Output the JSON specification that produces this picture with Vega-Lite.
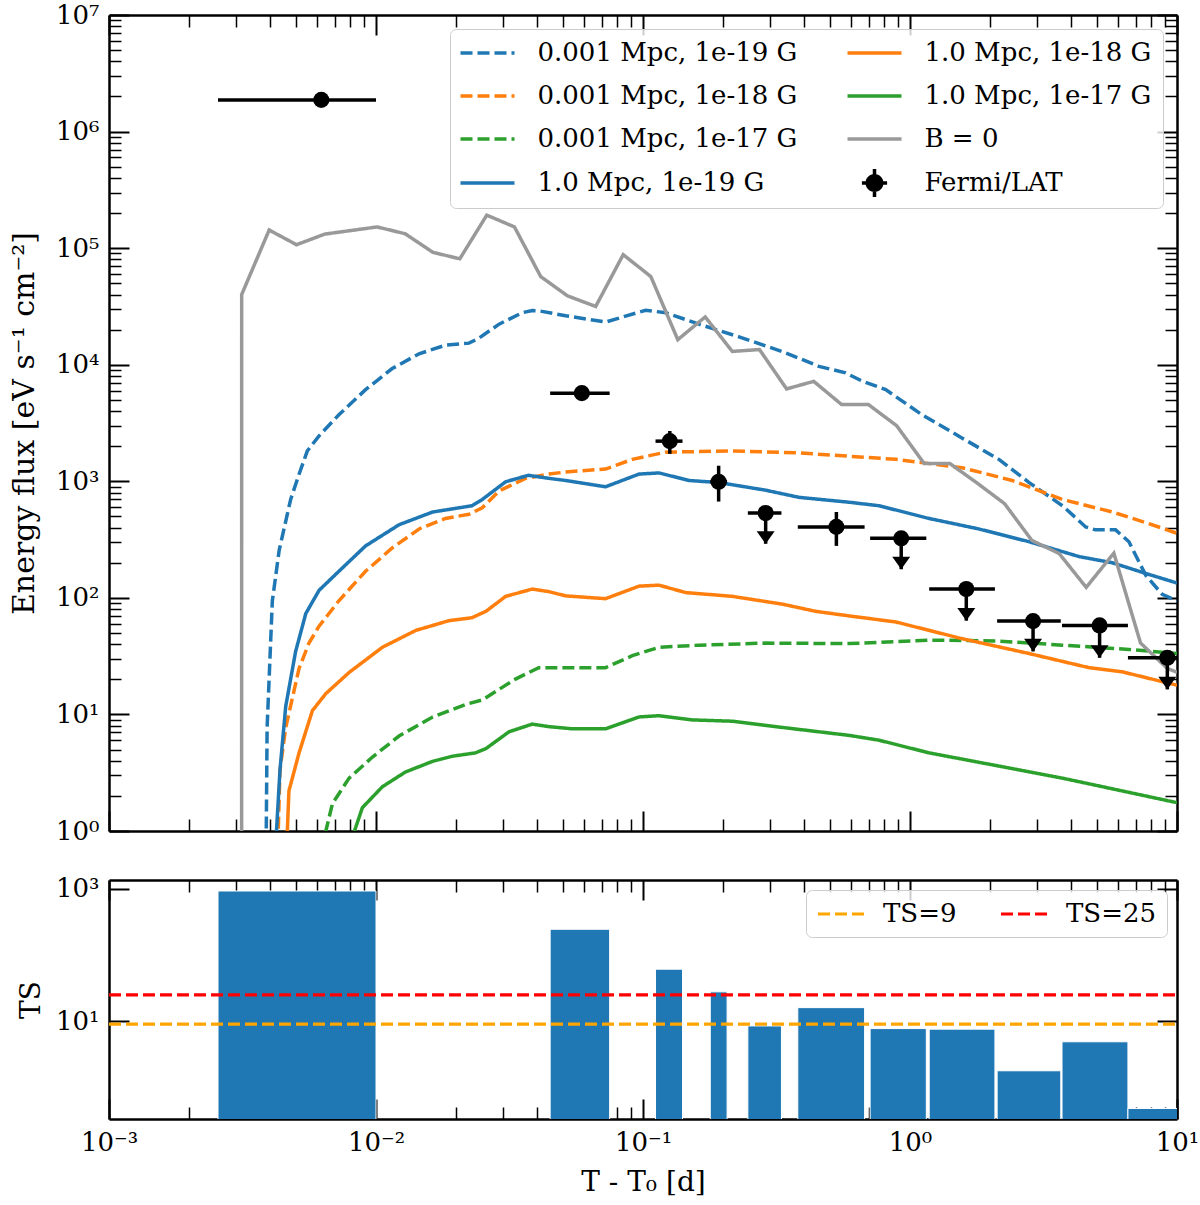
{
  "$schema": "https://vega.github.io/schema/vega-lite/v6.json",
  "padding": {"left": 9, "top": 2, "right": 5, "bottom": 5},
  "spacing": 31,
  "resolve": {"scale": {"color": "independent"}, "legend": {"color": "independent"}},
  "config": {
    "font": "DejaVu Serif",
    "view": {"stroke": null},
    "axis": {
      "labelFont": "DejaVu Serif", "labelFontSize": 26, "labelColor": "black",
      "titleFont": "DejaVu Serif", "titleFontSize": 28, "titleFontWeight": "normal", "titleColor": "black",
      "domainColor": "black", "domainWidth": 2.5, "tickColor": "black",
      "grid": false, "labelFlush": false, "labelOverlap": false, "labelBound": false
    },
    "legend": {"labelFont": "DejaVu Serif", "labelFontSize": 26, "labelColor": "black"}
  },
  "datasets": {
    "models": [
      {"series": "0.001 Mpc, 1e-19 G", "t": 0.00385, "f": 0.1},
      {"series": "0.001 Mpc, 1e-19 G", "t": 0.00391, "f": 7.7},
      {"series": "0.001 Mpc, 1e-19 G", "t": 0.00409, "f": 94},
      {"series": "0.001 Mpc, 1e-19 G", "t": 0.00434, "f": 257},
      {"series": "0.001 Mpc, 1e-19 G", "t": 0.00479, "f": 698},
      {"series": "0.001 Mpc, 1e-19 G", "t": 0.00515, "f": 1150},
      {"series": "0.001 Mpc, 1e-19 G", "t": 0.00553, "f": 1820},
      {"series": "0.001 Mpc, 1e-19 G", "t": 0.00612, "f": 2455},
      {"series": "0.001 Mpc, 1e-19 G", "t": 0.00726, "f": 3715},
      {"series": "0.001 Mpc, 1e-19 G", "t": 0.00914, "f": 6110},
      {"series": "0.001 Mpc, 1e-19 G", "t": 0.0115, "f": 9270},
      {"series": "0.001 Mpc, 1e-19 G", "t": 0.0145, "f": 12420},
      {"series": "0.001 Mpc, 1e-19 G", "t": 0.0182, "f": 14690},
      {"series": "0.001 Mpc, 1e-19 G", "t": 0.0223, "f": 15310},
      {"series": "0.001 Mpc, 1e-19 G", "t": 0.0243, "f": 16900},
      {"series": "0.001 Mpc, 1e-19 G", "t": 0.0289, "f": 22280},
      {"series": "0.001 Mpc, 1e-19 G", "t": 0.0353, "f": 27930},
      {"series": "0.001 Mpc, 1e-19 G", "t": 0.0385, "f": 29110},
      {"series": "0.001 Mpc, 1e-19 G", "t": 0.0407, "f": 29000},
      {"series": "0.001 Mpc, 1e-19 G", "t": 0.0513, "f": 26300},
      {"series": "0.001 Mpc, 1e-19 G", "t": 0.0724, "f": 23230},
      {"series": "0.001 Mpc, 1e-19 G", "t": 0.1023, "f": 29310},
      {"series": "0.001 Mpc, 1e-19 G", "t": 0.1216, "f": 27930},
      {"series": "0.001 Mpc, 1e-19 G", "t": 0.162, "f": 22280},
      {"series": "0.001 Mpc, 1e-19 G", "t": 0.229, "f": 17340},
      {"series": "0.001 Mpc, 1e-19 G", "t": 0.333, "f": 12940},
      {"series": "0.001 Mpc, 1e-19 G", "t": 0.456, "f": 9680},
      {"series": "0.001 Mpc, 1e-19 G", "t": 0.574, "f": 8510},
      {"series": "0.001 Mpc, 1e-19 G", "t": 0.662, "f": 7230},
      {"series": "0.001 Mpc, 1e-19 G", "t": 0.811, "f": 6110},
      {"series": "0.001 Mpc, 1e-19 G", "t": 1.112, "f": 3707},
      {"series": "0.001 Mpc, 1e-19 G", "t": 1.57, "f": 2344},
      {"series": "0.001 Mpc, 1e-19 G", "t": 2.153, "f": 1542},
      {"series": "0.001 Mpc, 1e-19 G", "t": 2.793, "f": 975},
      {"series": "0.001 Mpc, 1e-19 G", "t": 3.724, "f": 617},
      {"series": "0.001 Mpc, 1e-19 G", "t": 4.55, "f": 406},
      {"series": "0.001 Mpc, 1e-19 G", "t": 4.955, "f": 383},
      {"series": "0.001 Mpc, 1e-19 G", "t": 5.888, "f": 383},
      {"series": "0.001 Mpc, 1e-19 G", "t": 6.607, "f": 303},
      {"series": "0.001 Mpc, 1e-19 G", "t": 7.638, "f": 156},
      {"series": "0.001 Mpc, 1e-19 G", "t": 8.81, "f": 107},
      {"series": "0.001 Mpc, 1e-19 G", "t": 10, "f": 94},
      {"series": "0.001 Mpc, 1e-18 G", "t": 0.00418, "f": 0.1},
      {"series": "0.001 Mpc, 1e-18 G", "t": 0.00437, "f": 3.35},
      {"series": "0.001 Mpc, 1e-18 G", "t": 0.00459, "f": 7.7},
      {"series": "0.001 Mpc, 1e-18 G", "t": 0.00515, "f": 24.8},
      {"series": "0.001 Mpc, 1e-18 G", "t": 0.00561, "f": 40.9},
      {"series": "0.001 Mpc, 1e-18 G", "t": 0.00612, "f": 57.1},
      {"series": "0.001 Mpc, 1e-18 G", "t": 0.00726, "f": 94.4},
      {"series": "0.001 Mpc, 1e-18 G", "t": 0.00914, "f": 169},
      {"series": "0.001 Mpc, 1e-18 G", "t": 0.0115, "f": 268},
      {"series": "0.001 Mpc, 1e-18 G", "t": 0.0145, "f": 390},
      {"series": "0.001 Mpc, 1e-18 G", "t": 0.0182, "f": 480},
      {"series": "0.001 Mpc, 1e-18 G", "t": 0.0223, "f": 521},
      {"series": "0.001 Mpc, 1e-18 G", "t": 0.025, "f": 592},
      {"series": "0.001 Mpc, 1e-18 G", "t": 0.0289, "f": 826},
      {"series": "0.001 Mpc, 1e-18 G", "t": 0.0363, "f": 1059},
      {"series": "0.001 Mpc, 1e-18 G", "t": 0.0445, "f": 1153},
      {"series": "0.001 Mpc, 1e-18 G", "t": 0.0513, "f": 1202},
      {"series": "0.001 Mpc, 1e-18 G", "t": 0.0724, "f": 1274},
      {"series": "0.001 Mpc, 1e-18 G", "t": 0.0912, "f": 1542},
      {"series": "0.001 Mpc, 1e-18 G", "t": 0.1216, "f": 1778},
      {"series": "0.001 Mpc, 1e-18 G", "t": 0.216, "f": 1820},
      {"series": "0.001 Mpc, 1e-18 G", "t": 0.384, "f": 1750},
      {"series": "0.001 Mpc, 1e-18 G", "t": 0.592, "f": 1640},
      {"series": "0.001 Mpc, 1e-18 G", "t": 0.885, "f": 1542},
      {"series": "0.001 Mpc, 1e-18 G", "t": 1.57, "f": 1306},
      {"series": "0.001 Mpc, 1e-18 G", "t": 2.415, "f": 1016},
      {"series": "0.001 Mpc, 1e-18 G", "t": 3.724, "f": 698},
      {"series": "0.001 Mpc, 1e-18 G", "t": 5.728, "f": 545},
      {"series": "0.001 Mpc, 1e-18 G", "t": 7.638, "f": 442},
      {"series": "0.001 Mpc, 1e-18 G", "t": 10, "f": 358},
      {"series": "0.001 Mpc, 1e-17 G", "t": 0.00603, "f": 0.5},
      {"series": "0.001 Mpc, 1e-17 G", "t": 0.00687, "f": 1.72},
      {"series": "0.001 Mpc, 1e-17 G", "t": 0.00793, "f": 2.84},
      {"series": "0.001 Mpc, 1e-17 G", "t": 0.0097, "f": 4.31},
      {"series": "0.001 Mpc, 1e-17 G", "t": 0.0122, "f": 6.53},
      {"series": "0.001 Mpc, 1e-17 G", "t": 0.0163, "f": 9.51},
      {"series": "0.001 Mpc, 1e-17 G", "t": 0.0217, "f": 12.2},
      {"series": "0.001 Mpc, 1e-17 G", "t": 0.025, "f": 13.3},
      {"series": "0.001 Mpc, 1e-17 G", "t": 0.0289, "f": 16.4},
      {"series": "0.001 Mpc, 1e-17 G", "t": 0.0333, "f": 20.1},
      {"series": "0.001 Mpc, 1e-17 G", "t": 0.0407, "f": 25.2},
      {"series": "0.001 Mpc, 1e-17 G", "t": 0.0513, "f": 25.2},
      {"series": "0.001 Mpc, 1e-17 G", "t": 0.0724, "f": 25.2},
      {"series": "0.001 Mpc, 1e-17 G", "t": 0.0912, "f": 31.9},
      {"series": "0.001 Mpc, 1e-17 G", "t": 0.1148, "f": 37.7},
      {"series": "0.001 Mpc, 1e-17 G", "t": 0.162, "f": 39.3},
      {"series": "0.001 Mpc, 1e-17 G", "t": 0.2877, "f": 40.9},
      {"series": "0.001 Mpc, 1e-17 G", "t": 0.592, "f": 40.5},
      {"series": "0.001 Mpc, 1e-17 G", "t": 1.178, "f": 43.4},
      {"series": "0.001 Mpc, 1e-17 G", "t": 2.094, "f": 42.7},
      {"series": "0.001 Mpc, 1e-17 G", "t": 3.724, "f": 39.3},
      {"series": "0.001 Mpc, 1e-17 G", "t": 6.607, "f": 36.1},
      {"series": "0.001 Mpc, 1e-17 G", "t": 10, "f": 33.3},
      {"series": "1.0 Mpc, 1e-19 G", "t": 0.0040, "f": 0.1},
      {"series": "1.0 Mpc, 1e-19 G", "t": 0.00437, "f": 3.35},
      {"series": "1.0 Mpc, 1e-19 G", "t": 0.00459, "f": 11.7},
      {"series": "1.0 Mpc, 1e-19 G", "t": 0.0050, "f": 34.7},
      {"series": "1.0 Mpc, 1e-19 G", "t": 0.00546, "f": 73.5},
      {"series": "1.0 Mpc, 1e-19 G", "t": 0.00612, "f": 116},
      {"series": "1.0 Mpc, 1e-19 G", "t": 0.00726, "f": 169},
      {"series": "1.0 Mpc, 1e-19 G", "t": 0.00914, "f": 279},
      {"series": "1.0 Mpc, 1e-19 G", "t": 0.0122, "f": 424},
      {"series": "1.0 Mpc, 1e-19 G", "t": 0.0163, "f": 545},
      {"series": "1.0 Mpc, 1e-19 G", "t": 0.0229, "f": 617},
      {"series": "1.0 Mpc, 1e-19 G", "t": 0.025, "f": 698},
      {"series": "1.0 Mpc, 1e-19 G", "t": 0.0306, "f": 991},
      {"series": "1.0 Mpc, 1e-19 G", "t": 0.0372, "f": 1125},
      {"series": "1.0 Mpc, 1e-19 G", "t": 0.0445, "f": 1059},
      {"series": "1.0 Mpc, 1e-19 G", "t": 0.0513, "f": 1016},
      {"series": "1.0 Mpc, 1e-19 G", "t": 0.0724, "f": 897},
      {"series": "1.0 Mpc, 1e-19 G", "t": 0.0966, "f": 1153},
      {"series": "1.0 Mpc, 1e-19 G", "t": 0.1148, "f": 1180},
      {"series": "1.0 Mpc, 1e-19 G", "t": 0.1486, "f": 1016},
      {"series": "1.0 Mpc, 1e-19 G", "t": 0.1928, "f": 975},
      {"series": "1.0 Mpc, 1e-19 G", "t": 0.2877, "f": 839},
      {"series": "1.0 Mpc, 1e-19 G", "t": 0.384, "f": 728},
      {"series": "1.0 Mpc, 1e-19 G", "t": 0.592, "f": 661},
      {"series": "1.0 Mpc, 1e-19 G", "t": 0.766, "f": 617},
      {"series": "1.0 Mpc, 1e-19 G", "t": 1.178, "f": 480},
      {"series": "1.0 Mpc, 1e-19 G", "t": 1.811, "f": 390},
      {"series": "1.0 Mpc, 1e-19 G", "t": 2.793, "f": 303},
      {"series": "1.0 Mpc, 1e-19 G", "t": 4.295, "f": 226},
      {"series": "1.0 Mpc, 1e-19 G", "t": 5.728, "f": 200},
      {"series": "1.0 Mpc, 1e-19 G", "t": 7.638, "f": 162},
      {"series": "1.0 Mpc, 1e-19 G", "t": 10, "f": 134},
      {"series": "1.0 Mpc, 1e-18 G", "t": 0.00447, "f": 0.1},
      {"series": "1.0 Mpc, 1e-18 G", "t": 0.00472, "f": 2.21},
      {"series": "1.0 Mpc, 1e-18 G", "t": 0.00515, "f": 4.68},
      {"series": "1.0 Mpc, 1e-18 G", "t": 0.00578, "f": 10.8},
      {"series": "1.0 Mpc, 1e-18 G", "t": 0.00649, "f": 15.1},
      {"series": "1.0 Mpc, 1e-18 G", "t": 0.00793, "f": 22.9},
      {"series": "1.0 Mpc, 1e-18 G", "t": 0.01057, "f": 37.7},
      {"series": "1.0 Mpc, 1e-18 G", "t": 0.0141, "f": 52.6},
      {"series": "1.0 Mpc, 1e-18 G", "t": 0.01875, "f": 63.7},
      {"series": "1.0 Mpc, 1e-18 G", "t": 0.0229, "f": 67.6},
      {"series": "1.0 Mpc, 1e-18 G", "t": 0.0258, "f": 76.6},
      {"series": "1.0 Mpc, 1e-18 G", "t": 0.0306, "f": 103},
      {"series": "1.0 Mpc, 1e-18 G", "t": 0.0385, "f": 119},
      {"series": "1.0 Mpc, 1e-18 G", "t": 0.0445, "f": 113},
      {"series": "1.0 Mpc, 1e-18 G", "t": 0.0513, "f": 104},
      {"series": "1.0 Mpc, 1e-18 G", "t": 0.0724, "f": 98.4},
      {"series": "1.0 Mpc, 1e-18 G", "t": 0.0966, "f": 126},
      {"series": "1.0 Mpc, 1e-18 G", "t": 0.1148, "f": 128.5},
      {"series": "1.0 Mpc, 1e-18 G", "t": 0.1445, "f": 111},
      {"series": "1.0 Mpc, 1e-18 G", "t": 0.216, "f": 103},
      {"series": "1.0 Mpc, 1e-18 G", "t": 0.333, "f": 88.3},
      {"series": "1.0 Mpc, 1e-18 G", "t": 0.4436, "f": 76.6},
      {"series": "1.0 Mpc, 1e-18 G", "t": 0.592, "f": 70},
      {"series": "1.0 Mpc, 1e-18 G", "t": 0.885, "f": 62.1},
      {"series": "1.0 Mpc, 1e-18 G", "t": 1.57, "f": 44.6},
      {"series": "1.0 Mpc, 1e-18 G", "t": 2.793, "f": 33.3},
      {"series": "1.0 Mpc, 1e-18 G", "t": 4.677, "f": 25.2},
      {"series": "1.0 Mpc, 1e-18 G", "t": 6.237, "f": 23.2},
      {"series": "1.0 Mpc, 1e-18 G", "t": 10, "f": 17.8},
      {"series": "1.0 Mpc, 1e-17 G", "t": 0.0075, "f": 0.5},
      {"series": "1.0 Mpc, 1e-17 G", "t": 0.00889, "f": 1.585},
      {"series": "1.0 Mpc, 1e-17 G", "t": 0.01057, "f": 2.4},
      {"series": "1.0 Mpc, 1e-17 G", "t": 0.0129, "f": 3.21},
      {"series": "1.0 Mpc, 1e-17 G", "t": 0.0163, "f": 3.96},
      {"series": "1.0 Mpc, 1e-17 G", "t": 0.0193, "f": 4.38},
      {"series": "1.0 Mpc, 1e-17 G", "t": 0.0236, "f": 4.68},
      {"series": "1.0 Mpc, 1e-17 G", "t": 0.0258, "f": 5.09},
      {"series": "1.0 Mpc, 1e-17 G", "t": 0.0315, "f": 7.1},
      {"series": "1.0 Mpc, 1e-17 G", "t": 0.0385, "f": 8.26},
      {"series": "1.0 Mpc, 1e-17 G", "t": 0.0445, "f": 7.85},
      {"series": "1.0 Mpc, 1e-17 G", "t": 0.0543, "f": 7.53},
      {"series": "1.0 Mpc, 1e-17 G", "t": 0.0724, "f": 7.53},
      {"series": "1.0 Mpc, 1e-17 G", "t": 0.0966, "f": 9.51},
      {"series": "1.0 Mpc, 1e-17 G", "t": 0.1148, "f": 9.75},
      {"series": "1.0 Mpc, 1e-17 G", "t": 0.153, "f": 8.97},
      {"series": "1.0 Mpc, 1e-17 G", "t": 0.216, "f": 8.75},
      {"series": "1.0 Mpc, 1e-17 G", "t": 0.333, "f": 7.73},
      {"series": "1.0 Mpc, 1e-17 G", "t": 0.592, "f": 6.61},
      {"series": "1.0 Mpc, 1e-17 G", "t": 0.766, "f": 6.01},
      {"series": "1.0 Mpc, 1e-17 G", "t": 1.178, "f": 4.68},
      {"series": "1.0 Mpc, 1e-17 G", "t": 2.094, "f": 3.65},
      {"series": "1.0 Mpc, 1e-17 G", "t": 3.724, "f": 2.84},
      {"series": "1.0 Mpc, 1e-17 G", "t": 5.728, "f": 2.3},
      {"series": "1.0 Mpc, 1e-17 G", "t": 10, "f": 1.75},
      {"series": "B = 0", "t": 0.003138, "f": 0.01},
      {"series": "B = 0", "t": 0.00314, "f": 40000},
      {"series": "B = 0", "t": 0.00398, "f": 143000},
      {"series": "B = 0", "t": 0.00504, "f": 107000},
      {"series": "B = 0", "t": 0.00643, "f": 132000},
      {"series": "B = 0", "t": 0.0101, "f": 152000},
      {"series": "B = 0", "t": 0.01285, "f": 133000},
      {"series": "B = 0", "t": 0.01634, "f": 92000},
      {"series": "B = 0", "t": 0.0206, "f": 81000},
      {"series": "B = 0", "t": 0.026, "f": 192000},
      {"series": "B = 0", "t": 0.033, "f": 152000},
      {"series": "B = 0", "t": 0.0414, "f": 57000},
      {"series": "B = 0", "t": 0.0521, "f": 39000},
      {"series": "B = 0", "t": 0.0665, "f": 31600},
      {"series": "B = 0", "t": 0.0843, "f": 88000},
      {"series": "B = 0", "t": 0.107, "f": 57000},
      {"series": "B = 0", "t": 0.135, "f": 16400},
      {"series": "B = 0", "t": 0.171, "f": 25700},
      {"series": "B = 0", "t": 0.216, "f": 13000},
      {"series": "B = 0", "t": 0.273, "f": 13500},
      {"series": "B = 0", "t": 0.345, "f": 6200},
      {"series": "B = 0", "t": 0.436, "f": 7200},
      {"series": "B = 0", "t": 0.554, "f": 4560},
      {"series": "B = 0", "t": 0.698, "f": 4560},
      {"series": "B = 0", "t": 0.891, "f": 3000},
      {"series": "B = 0", "t": 1.13, "f": 1420},
      {"series": "B = 0", "t": 1.41, "f": 1420},
      {"series": "B = 0", "t": 1.79, "f": 960},
      {"series": "B = 0", "t": 2.26, "f": 643},
      {"series": "B = 0", "t": 2.86, "f": 311},
      {"series": "B = 0", "t": 3.62, "f": 240},
      {"series": "B = 0", "t": 4.57, "f": 123},
      {"series": "B = 0", "t": 5.8, "f": 242},
      {"series": "B = 0", "t": 7.3, "f": 41},
      {"series": "B = 0", "t": 9.2, "f": 24.8},
      {"series": "B = 0", "t": 10, "f": 23}
    ],
    "fermi": [
      {"t": 0.00624, "tmin": 0.00256, "tmax": 0.01, "flux": 1870000, "ts": 923, "ul": false},
      {"t": 0.059, "tmin": 0.0449, "tmax": 0.075, "flux": 5700, "ts": 244, "ul": false},
      {"t": 0.126, "tmin": 0.1114, "tmax": 0.1406, "flux": 2210, "lo": 1720, "hi": 2700, "ts": 60.9, "ul": false},
      {"t": 0.192, "tmin": 0.1786, "tmax": 0.2065, "flux": 990, "lo": 670, "hi": 1360, "ts": 27.7, "ul": false},
      {"t": 0.288, "tmin": 0.247, "tmax": 0.33, "flux": 535, "lo": 291, "hi": 535, "ts": 8.47, "ul": true},
      {"t": 0.53, "tmin": 0.38, "tmax": 0.676, "flux": 406, "lo": 279, "hi": 545, "ts": 16.0, "ul": false},
      {"t": 0.927, "tmin": 0.709, "tmax": 1.151, "flux": 324, "lo": 176, "hi": 324, "ts": 7.72, "ul": true},
      {"t": 1.625, "tmin": 1.18, "tmax": 2.08, "flux": 119, "lo": 63.7, "hi": 119, "ts": 7.57, "ul": true},
      {"t": 2.89, "tmin": 2.12, "tmax": 3.67, "flux": 63.2, "lo": 34.7, "hi": 63.2, "ts": 1.78, "ul": true},
      {"t": 5.13, "tmin": 3.71, "tmax": 6.55, "flux": 58, "lo": 30.6, "hi": 58, "ts": 4.88, "ul": true},
      {"t": 9.2, "tmin": 6.55, "tmax": 12.9, "flux": 30.6, "lo": 16.4, "hi": 30.6, "ts": 0.48, "ul": true}
    ],
    "thresholds": [
      {"label": "TS=9", "ts": 9},
      {"label": "TS=25", "ts": 25}
    ]
  },
  "vconcat": [
    {
      "width": 1068,
      "height": 816,
      "layer": [
        {
          "data": {"name": "models"},
          "mark": {"type": "line", "strokeWidth": 3.5, "clip": true},
          "encoding": {
            "x": {
              "field": "t", "type": "quantitative",
              "scale": {"type": "log", "domain": [0.001, 10], "nice": false},
              "axis": {
                "orient": "bottom", "title": null, "labels": false,
                "values": [0.001,0.002,0.003,0.004,0.005,0.006,0.007,0.008,0.009,0.01,0.02,0.03,0.04,0.05,0.06,0.07,0.08,0.09,0.1,0.2,0.3,0.4,0.5,0.6,0.7,0.8,0.9,1,2,3,4,5,6,7,8,9,10],
                "tickSize": {"condition": {"test": "abs(log(datum.value)/LN10 - round(log(datum.value)/LN10)) < 0.001", "value": -20}, "value": -12},
                "tickWidth": {"condition": {"test": "abs(log(datum.value)/LN10 - round(log(datum.value)/LN10)) < 0.001", "value": 2}, "value": 1.5}
              }
            },
            "y": {
              "field": "f", "type": "quantitative",
              "scale": {"type": "log", "domain": [1, 10000000], "nice": false},
              "axis": {
                "orient": "left", "title": "Energy flux [eV s⁻¹ cm⁻²]", "titlePadding": 16, "titleFontSize": 30,
                "values": [1,2,3,4,5,6,7,8,9,10,20,30,40,50,60,70,80,90,100,200,300,400,500,600,700,800,900,1000,2000,3000,4000,5000,6000,7000,8000,9000,10000,20000,30000,40000,50000,60000,70000,80000,90000,100000,200000,300000,400000,500000,600000,700000,800000,900000,1000000,2000000,3000000,4000000,5000000,6000000,7000000,8000000,9000000,10000000],
                "labelExpr": "abs(log(datum.value)/LN10 - round(log(datum.value)/LN10)) < 0.001 ? '10' + ['⁰','¹','²','³','⁴','⁵','⁶','⁷'][round(log(datum.value)/LN10)] : ''",
                "labelPadding": 30,
                "tickSize": {"condition": {"test": "abs(log(datum.value)/LN10 - round(log(datum.value)/LN10)) < 0.001", "value": -20}, "value": -12},
                "tickWidth": {"condition": {"test": "abs(log(datum.value)/LN10 - round(log(datum.value)/LN10)) < 0.001", "value": 2}, "value": 1.5}
              }
            },
            "color": {
              "field": "series", "type": "nominal",
              "scale": {
                "domain": ["0.001 Mpc, 1e-19 G", "0.001 Mpc, 1e-18 G", "0.001 Mpc, 1e-17 G", "1.0 Mpc, 1e-19 G", "1.0 Mpc, 1e-18 G", "1.0 Mpc, 1e-17 G", "B = 0", "Fermi/LAT"],
                "range": ["#1f77b4", "#ff7f0e", "#2ca02c", "#1f77b4", "#ff7f0e", "#2ca02c", "#999999", "black"]
              },
              "legend": {
                "title": null, "orient": "top-right", "offset": 14, "columns": 2,
                "symbolType": "M-2,0L2,0", "symbolSize": 729, "symbolStrokeWidth": 3.5, "symbolOffset": 13.5,
                "labelFontSize": 26, "labelLimit": 400, "labelOffset": 37,
                "columnPadding": 42, "rowPadding": 17, "padding": 11,
                "strokeColor": "#cccccc", "fillColor": "rgba(255,255,255,0.8)", "cornerRadius": 6,
                "encode": {
                  "symbols": {
                    "update": {
                      "shape": {"signal": "datum.value === 'Fermi/LAT' ? 'M-0.643,0A0.643,0.643,0,1,1,0.643,0A0.643,0.643,0,1,1,-0.643,0Z M-0.125,-1L0.125,-1L0.125,1L-0.125,1Z M-0.9,-0.125L0.9,-0.125L0.9,0.125L-0.9,0.125Z' : 'M-2,0L2,0'"},
                      "fill": {"signal": "datum.value === 'Fermi/LAT' ? 'black' : 'transparent'"},
                      "size": {"signal": "datum.value === 'Fermi/LAT' ? 784 : 729"},
                      "strokeWidth": {"signal": "datum.value === 'Fermi/LAT' ? 0 : 3.5"},
                      "strokeDash": {"signal": "substring(datum.value, 0, 5) === '0.001' ? [12, 5] : [1, 0]"}
                    }
                  }
                }
              }
            },
            "strokeDash": {
              "field": "series", "type": "nominal",
              "scale": {
                "domain": ["0.001 Mpc, 1e-19 G", "0.001 Mpc, 1e-18 G", "0.001 Mpc, 1e-17 G", "1.0 Mpc, 1e-19 G", "1.0 Mpc, 1e-18 G", "1.0 Mpc, 1e-17 G", "B = 0", "Fermi/LAT"],
                "range": [[12, 5], [12, 5], [12, 5], [1, 0], [1, 0], [1, 0], [1, 0], [1, 0]]
              },
              "legend": null
            }
          }
        },
        {
          "data": {"name": "fermi"},
          "mark": {"type": "rule", "color": "black", "strokeWidth": 3.5, "clip": true},
          "encoding": {
            "x": {
              "field": "tmin", "type": "quantitative",
              "axis": {
                "orient": "top", "title": null, "labels": false,
                "values": [0.001,0.002,0.003,0.004,0.005,0.006,0.007,0.008,0.009,0.01,0.02,0.03,0.04,0.05,0.06,0.07,0.08,0.09,0.1,0.2,0.3,0.4,0.5,0.6,0.7,0.8,0.9,1,2,3,4,5,6,7,8,9,10],
                "tickSize": {"condition": {"test": "abs(log(datum.value)/LN10 - round(log(datum.value)/LN10)) < 0.001", "value": -20}, "value": -12},
                "tickWidth": {"condition": {"test": "abs(log(datum.value)/LN10 - round(log(datum.value)/LN10)) < 0.001", "value": 2}, "value": 1.5}
              }
            },
            "x2": {"field": "tmax"},
            "y": {
              "field": "flux", "type": "quantitative",
              "axis": {
                "orient": "right", "title": null, "labels": false,
                "values": [1,2,3,4,5,6,7,8,9,10,20,30,40,50,60,70,80,90,100,200,300,400,500,600,700,800,900,1000,2000,3000,4000,5000,6000,7000,8000,9000,10000,20000,30000,40000,50000,60000,70000,80000,90000,100000,200000,300000,400000,500000,600000,700000,800000,900000,1000000,2000000,3000000,4000000,5000000,6000000,7000000,8000000,9000000,10000000],
                "tickSize": {"condition": {"test": "abs(log(datum.value)/LN10 - round(log(datum.value)/LN10)) < 0.001", "value": -20}, "value": -12},
                "tickWidth": {"condition": {"test": "abs(log(datum.value)/LN10 - round(log(datum.value)/LN10)) < 0.001", "value": 2}, "value": 1.5}
              }
            }
          }
        },
        {
          "data": {"name": "fermi"},
          "transform": [{"filter": "isValid(datum.lo)"}],
          "mark": {"type": "rule", "color": "black", "strokeWidth": 3.5, "clip": true},
          "encoding": {
            "x": {"field": "t", "type": "quantitative", "axis": null},
            "y": {"field": "lo", "type": "quantitative", "axis": null},
            "y2": {"field": "hi"}
          }
        },
        {
          "data": {"name": "fermi"},
          "transform": [{"filter": "datum.ul"}],
          "mark": {"type": "point", "shape": "M-1,-1.4L1,-1.4L0,0Z", "filled": true, "color": "black", "opacity": 1, "size": 324, "clip": true},
          "encoding": {
            "x": {"field": "t", "type": "quantitative", "axis": null},
            "y": {"field": "lo", "type": "quantitative", "axis": null}
          }
        },
        {
          "data": {"name": "fermi"},
          "mark": {"type": "circle", "color": "black", "opacity": 1, "size": 260, "clip": true},
          "encoding": {
            "x": {"field": "t", "type": "quantitative", "axis": null},
            "y": {"field": "flux", "type": "quantitative", "axis": null}
          }
        }
      ],
      "resolve": {"axis": {"x": "independent", "y": "independent"}}
    },
    {
      "width": 1068,
      "height": 239,
      "layer": [
        {
          "data": {"name": "fermi"},
          "mark": {"type": "rect", "fill": "#1f77b4", "stroke": "#ffffff", "strokeWidth": 1, "clip": true},
          "encoding": {
            "x": {
              "field": "tmin", "type": "quantitative",
              "scale": {"type": "log", "domain": [0.001, 10], "nice": false},
              "axis": {
                "orient": "bottom", "title": "T - T₀ [d]", "titlePadding": 5,
                "values": [0.001,0.002,0.003,0.004,0.005,0.006,0.007,0.008,0.009,0.01,0.02,0.03,0.04,0.05,0.06,0.07,0.08,0.09,0.1,0.2,0.3,0.4,0.5,0.6,0.7,0.8,0.9,1,2,3,4,5,6,7,8,9,10],
                "labelExpr": "abs(log(datum.value)/LN10 - round(log(datum.value)/LN10)) < 0.001 ? '10' + ['⁻³','⁻²','⁻¹','⁰','¹'][round(log(datum.value)/LN10) + 3] : ''",
                "labelPadding": 30,
                "tickSize": {"condition": {"test": "abs(log(datum.value)/LN10 - round(log(datum.value)/LN10)) < 0.001", "value": -20}, "value": -12},
                "tickWidth": {"condition": {"test": "abs(log(datum.value)/LN10 - round(log(datum.value)/LN10)) < 0.001", "value": 2}, "value": 1.5}
              }
            },
            "x2": {"field": "tmax"},
            "y": {
              "field": "ts", "type": "quantitative",
              "scale": {"type": "log", "domain": [0.333, 1353], "nice": false},
              "axis": {
                "orient": "left", "title": "TS", "titlePadding": 10,
                "values": [10, 1000],
                "labelExpr": "'10' + (round(log(datum.value)/LN10) == 1 ? '¹' : '³')",
                "labelPadding": 30, "tickSize": -20, "tickWidth": 2
              }
            },
            "y2": {"datum": 0.01}
          }
        },
        {
          "data": {"name": "thresholds"},
          "mark": {"type": "rule", "strokeWidth": 3.2, "strokeDash": [12, 5]},
          "encoding": {
            "x": {
              "datum": 0.001, "type": "quantitative",
              "axis": {
                "orient": "top", "title": null, "labels": false,
                "values": [0.001,0.002,0.003,0.004,0.005,0.006,0.007,0.008,0.009,0.01,0.02,0.03,0.04,0.05,0.06,0.07,0.08,0.09,0.1,0.2,0.3,0.4,0.5,0.6,0.7,0.8,0.9,1,2,3,4,5,6,7,8,9,10],
                "tickSize": {"condition": {"test": "abs(log(datum.value)/LN10 - round(log(datum.value)/LN10)) < 0.001", "value": -20}, "value": -12},
                "tickWidth": {"condition": {"test": "abs(log(datum.value)/LN10 - round(log(datum.value)/LN10)) < 0.001", "value": 2}, "value": 1.5}
              }
            },
            "x2": {"datum": 10},
            "y": {
              "field": "ts", "type": "quantitative",
              "axis": {"orient": "right", "title": null, "labels": false, "values": [10, 1000], "tickSize": -20, "tickWidth": 2}
            },
            "color": {
              "field": "label", "type": "nominal",
              "scale": {"domain": ["TS=9", "TS=25"], "range": ["orange", "red"]},
              "legend": {
                "title": null, "orient": "top-right", "offset": 10, "columns": 2,
                "symbolType": "M-2,0L2,0", "symbolSize": 576, "symbolStrokeWidth": 3.2, "symbolDash": [12, 5], "symbolOffset": 12,
                "labelFontSize": 26, "labelLimit": 300, "labelOffset": 27,
                "columnPadding": 37, "padding": 10,
                "strokeColor": "#cccccc", "fillColor": "rgba(255,255,255,0.8)", "cornerRadius": 6
              }
            }
          }
        }
      ],
      "resolve": {"axis": {"x": "independent", "y": "independent"}}
    }
  ]
}
